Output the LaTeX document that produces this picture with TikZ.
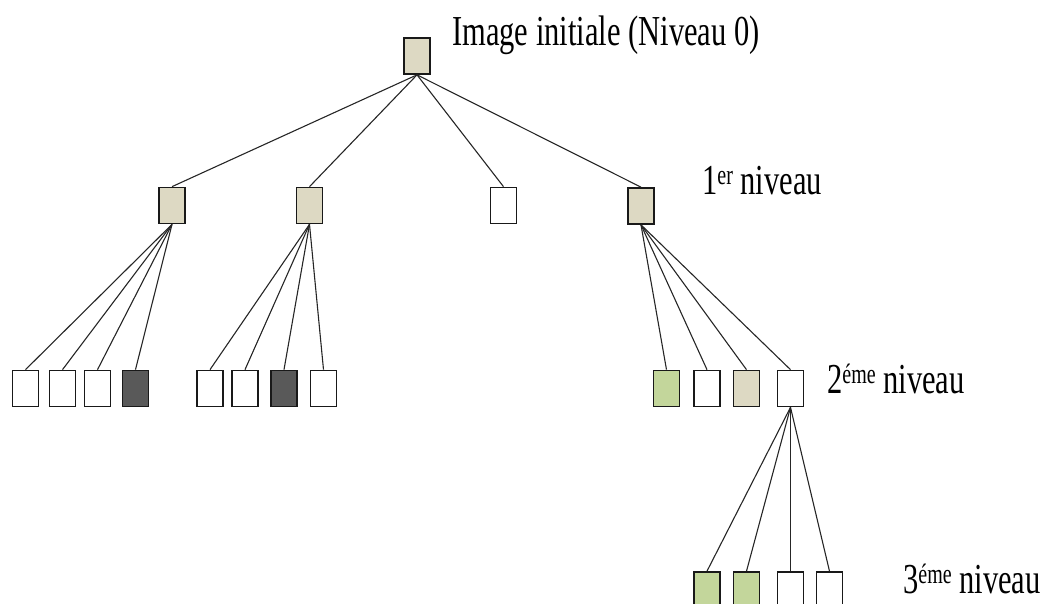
\documentclass[tikz,border=0pt]{standalone}
\usepackage{graphicx}
\usepackage{fontspec}
\setmainfont{Liberation Serif}
\definecolor{beige}{RGB}{221,217,195}
\definecolor{vert}{RGB}{195,214,155}
\definecolor{fonce}{RGB}{89,89,89}
\newcommand\lvlsup[1]{\raisebox{6.5pt}{\fontsize{20}{20}\selectfont #1}}
\newcommand\vstretch[1]{\scalebox{1}[1.4]{#1}}
\begin{document}
\begin{tikzpicture}[x=1pt,y=-1pt,
 box/.style={draw=black!90,line width=1.7pt,minimum width=26pt,minimum height=36pt,inner sep=0pt,fill=white},
 bg/.style={box,fill=beige},
 gr/.style={box,fill=vert},
 dk/.style={box,fill=fonce},
 link/.style={draw=black!85,line width=1.1pt},
 lbl/.style={anchor=base west,inner sep=0pt,font=\fontsize{30.5}{36}\selectfont}]
\useasboundingbox (0,0) rectangle (1045,603);
\clip (0,0) rectangle (1045,603);
% level 0
\node[bg] (r) at (417,56) {};
% level 1
\node[bg] (a) at (172,205.5) {};
\node[bg] (b) at (309.5,205.5) {};
\node[box] (c) at (503.5,205.5) {};
\node[bg] (d) at (641,206) {};
% level 2
\node[box] (a1) at (25.5,388.5) {};
\node[box] (a2) at (62.5,388.5) {};
\node[box] (a3) at (97.5,388.5) {};
\node[dk]  (a4) at (135.5,388.5) {};
\node[box] (b1) at (210,388.5) {};
\node[box] (b2) at (245,388.5) {};
\node[dk]  (b3) at (284,388.5) {};
\node[box] (b4) at (323.5,388.5) {};
\node[gr]  (d1) at (666.5,388.5) {};
\node[box] (d2) at (707,388.5) {};
\node[bg]  (d3) at (746.5,388.5) {};
\node[box] (d4) at (790.5,388.5) {};
% level 3
\node[gr]  (e1) at (707,590) {};
\node[gr]  (e2) at (746.5,590) {};
\node[box] (e3) at (790.5,590) {};
\node[box] (e4) at (829.5,590) {};
% links
\foreach \c in {a,b,c,d} \draw[link] (r.south) -- (\c.north);
\foreach \c in {a1,a2,a3,a4} \draw[link] (a.south) -- (\c.north);
\foreach \c in {b1,b2,b3,b4} \draw[link] (b.south) -- (\c.north);
\foreach \c in {d1,d2,d3,d4} \draw[link] (d.south) -- (\c.north);
\foreach \c in {e1,e2,e3,e4} \draw[link] (d4.south) -- (\c.north);
% labels
\node[lbl] (t0) at (452,45) {\vstretch{Image initiale (Niveau 0)}};
\node[lbl] (t1) at (702,194) {\vstretch{1\lvlsup{er} niveau}};
\node[lbl] (t2) at (827,393) {\vstretch{2\lvlsup{éme} niveau}};
\node[lbl] (t3) at (903,593) {\vstretch{3\lvlsup{éme} niveau}};
\end{tikzpicture}
\end{document}
